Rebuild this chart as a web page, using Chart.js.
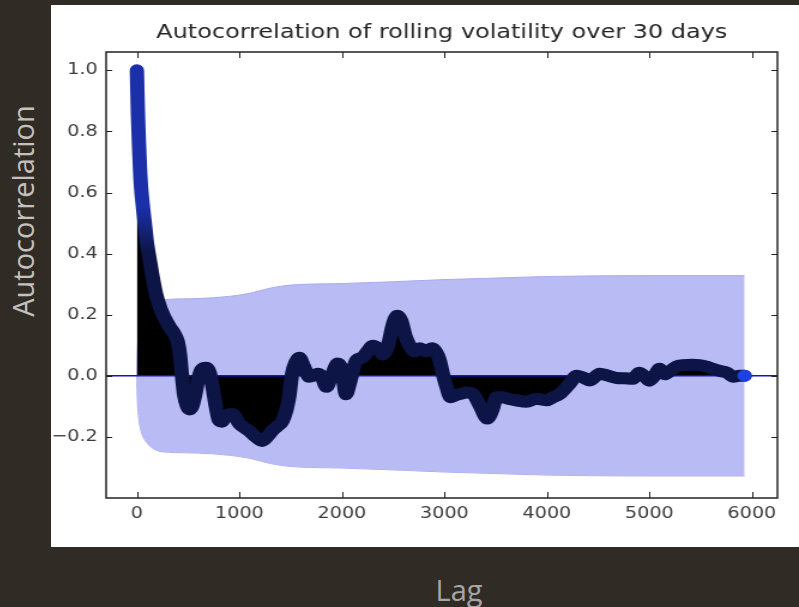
<html>
<head>
<script src="https://cdn.jsdelivr.net/npm/chart.js@4"></script>
<style>
  body { margin: 0; background: #302b25; width: 799px; height: 607px; overflow: hidden; position: relative; }
  #panel { position: absolute; left: 51px; top: 5px; width: 748px; height: 542px; background: #fff; overflow: hidden; }
  /* the picture is stretched sideways, so the chart is drawn narrow and widened */
  #myChart { transform-origin: 0 0; transform: scaleX(1.1987); }
  .outer { position: absolute; font-family: "Open Sans", sans-serif; font-weight: 400; font-size: 29px; white-space: nowrap; }
  #ylab { left: 22px; top: 211px; color: #c4c0bb; transform: translate(-50%, -50%) rotate(-90deg); }
  #xlab { left: 459px; top: 589px; color: #a6a6a6; transform: translate(-50%, -50%); }
</style>
</head>
<body>
<div id="panel"><canvas id="myChart" width="624" height="542"></canvas></div>
<div id="ylab" class="outer">Autocorrelation</div>
<div id="xlab" class="outer">Lag</div>
<script>
// acf values
const lags = [0, 5, 10, 20, 30, 40, 60, 80, 100, 125, 150, 185, 230, 270, 320, 360, 400, 420, 440, 460,
  490, 510, 540, 570, 600, 630, 675, 710, 740, 770, 800, 830, 870, 930, 1000, 1050, 1095, 1160, 1222, 1270,
  1320, 1370, 1420, 1460, 1485, 1515, 1550, 1585, 1630, 1680, 1720, 1760, 1800, 1850, 1900, 1960, 2000, 2040, 2080, 2140,
  2200, 2250, 2300, 2350, 2400, 2450, 2500, 2540, 2580, 2620, 2660, 2710, 2760, 2820, 2880, 2950, 2990, 3020, 3060, 3100,
  3150, 3220, 3280, 3350, 3420, 3470, 3510, 3560, 3620, 3700, 3800, 3900, 4000, 4060, 4125, 4220, 4290, 4350, 4420, 4515,
  4600, 4680, 4760, 4840, 4900, 4950, 5000, 5050, 5100, 5150, 5200, 5260, 5330, 5420, 5490, 5560, 5620, 5700, 5760, 5820,
  5880, 5930];
const acf = [1.00, 0.93, 0.86, 0.76, 0.68, 0.62, 0.55, 0.49, 0.43, 0.38, 0.33, 0.27, 0.22, 0.19, 0.16, 0.14, 0.11, 0.07, 0.0, -0.06,
  -0.10, -0.11, -0.10, -0.06, -0.01, 0.02, 0.026, 0.01, -0.04, -0.10, -0.145, -0.15, -0.13, -0.125, -0.157, -0.17, -0.18, -0.20, -0.213, -0.20,
  -0.18, -0.165, -0.148, -0.11, -0.07, 0.007, 0.045, 0.059, 0.03, -0.003, 0.0, 0.007, 0.0, -0.036, 0.0, 0.04, 0.02, -0.06, -0.02, 0.05,
  0.06, 0.08, 0.098, 0.09, 0.07, 0.10, 0.17, 0.197, 0.18, 0.13, 0.10, 0.08, 0.09, 0.08, 0.09, 0.055, 0.0, -0.035, -0.07, -0.065,
  -0.06, -0.055, -0.06, -0.10, -0.14, -0.11, -0.07, -0.07, -0.075, -0.08, -0.085, -0.075, -0.08, -0.07, -0.06, -0.027, 0.0, -0.005, -0.015, 0.007,
  0.0, -0.007, -0.008, -0.01, 0.01, 0.0, -0.016, 0.0, 0.023, 0.005, 0.015, 0.03, 0.035, 0.036, 0.035, 0.03, 0.023, 0.015, 0.01, -0.003,
  0.0, 0.0];

// half width of the confidence band
const bandLags = [0, 1, 5, 15, 40, 100, 185, 300, 600, 900, 1100, 1300, 1500, 2000, 2500, 3000, 3500, 4000, 5000, 5930];
const bandWidth = [0, 0.03, 0.08, 0.13, 0.18, 0.22, 0.243, 0.25, 0.253, 0.26, 0.27, 0.287, 0.297, 0.302, 0.308, 0.315, 0.32, 0.325, 0.328, 0.328];

const xTicks = [0, 1000, 2000, 3000, 4000, 5000, 6000];
const xMin = -300, xMax = 6250, yMin = -0.4, yMax = 1.06;

const acfPts = lags.map((l, i) => ({x: l, y: acf[i]}));
const upper = bandLags.map((l, i) => ({x: l, y: bandWidth[i]}));
const lower = bandLags.map((l, i) => ({x: l, y: -bandWidth[i]}));
const last = acfPts.length - 1;

const frame = {
  id: 'frame',
  afterDraw(chart) {
    const c = chart.ctx, a = chart.chartArea;
    const xs = chart.scales.x, ys = chart.scales.y;
    c.save();
    c.strokeStyle = '#222';
    c.lineWidth = 1;
    c.beginPath();
    xs.ticks.forEach(t => {
      const p = Math.round(xs.getPixelForValue(t.value)) + 0.5;
      c.moveTo(p, a.bottom); c.lineTo(p, a.bottom - 6);
      c.moveTo(p, a.top); c.lineTo(p, a.top + 6);
    });
    ys.ticks.forEach(t => {
      if (t.label === null || t.label === undefined || t.label === '') return;
      const p = Math.round(ys.getPixelForValue(t.value)) + 0.5;
      c.moveTo(a.left, p); c.lineTo(a.left + 5, p);
      c.moveTo(a.right, p); c.lineTo(a.right - 5, p);
    });
    c.stroke();
    c.lineWidth = 1.5;
    c.strokeRect(a.left, a.top, a.right - a.left, a.bottom - a.top);
    c.restore();
  }
};

function curveColour(context) {
  const chart = context.chart;
  if (!chart.chartArea) return '#0c1545';
  const y = chart.scales.y;
  const g = chart.ctx.createLinearGradient(0, y.getPixelForValue(0.55), 0, y.getPixelForValue(0.4));
  g.addColorStop(0, '#1a2fa8');
  g.addColorStop(1, '#0c1545');
  return g;
}

const ctx = document.getElementById('myChart');
new Chart(ctx, {
  type: 'line',
  data: {
    datasets: [
      {
        data: acfPts, order: 1, fill: false, cubicInterpolationMode: 'monotone',
        borderWidth: 12, borderCapStyle: 'round', borderJoinStyle: 'round',
        borderColor: curveColour,
        pointRadius: c => c.dataIndex === last ? 6 : 0,
        pointBackgroundColor: '#1d40e0', pointBorderWidth: 0
      },
      {
        data: [{x: xMin, y: 0}, {x: xMax, y: 0}], order: 2, fill: false,
        borderColor: '#1414c8', borderWidth: 1.5, pointRadius: 0
      },
      {
        data: acfPts, order: 3, fill: 'origin', cubicInterpolationMode: 'monotone',
        backgroundColor: '#000', borderWidth: 0, pointRadius: 0
      },
      {
        data: upper, order: 4, fill: '+1', cubicInterpolationMode: 'monotone',
        backgroundColor: '#b8bbf4', borderColor: '#a9acec', borderWidth: 1, pointRadius: 0
      },
      {
        data: lower, order: 5, fill: false, cubicInterpolationMode: 'monotone',
        borderColor: '#a9acec', borderWidth: 1, pointRadius: 0
      }
    ]
  },
  options: {
    responsive: false,
    animation: false,
    layout: { padding: { left: 0, right: 18, top: 0, bottom: 0 } },
    plugins: {
      legend: { display: false },
      tooltip: { enabled: false },
      title: {
        display: true,
        fullSize: false,
        text: 'Autocorrelation of rolling volatility over 30 days',
        color: '#262626',
        font: { family: 'DejaVu Sans', size: 20, weight: 'normal', lineHeight: 1.2 },
        padding: { top: 16, bottom: 7 }
      }
    },
    scales: {
      x: {
        type: 'linear', min: xMin, max: xMax,
        afterBuildTicks: s => { s.ticks = xTicks.map(v => ({value: v})); },
        afterFit: s => { s.height = 49; },
        grid: { display: false, drawTicks: false },
        border: { display: false },
        ticks: {
          color: '#3a3a3a', padding: 6, maxRotation: 0,
          font: { family: 'DejaVu Sans', size: 16 },
          callback: v => String(v)
        }
      },
      y: {
        type: 'linear', min: yMin, max: yMax,
        afterFit: s => { s.width = 46; },
        grid: { display: false, drawTicks: false },
        border: { display: false },
        ticks: {
          stepSize: 0.2, includeBounds: false, color: '#3a3a3a', padding: 7,
          font: { family: 'DejaVu Sans', size: 16 },
          callback: v => v < -0.3 ? null : v.toFixed(1).replace('-', '\u2212')
        }
      }
    }
  },
  plugins: [frame]
});
</script>
</body>
</html>
